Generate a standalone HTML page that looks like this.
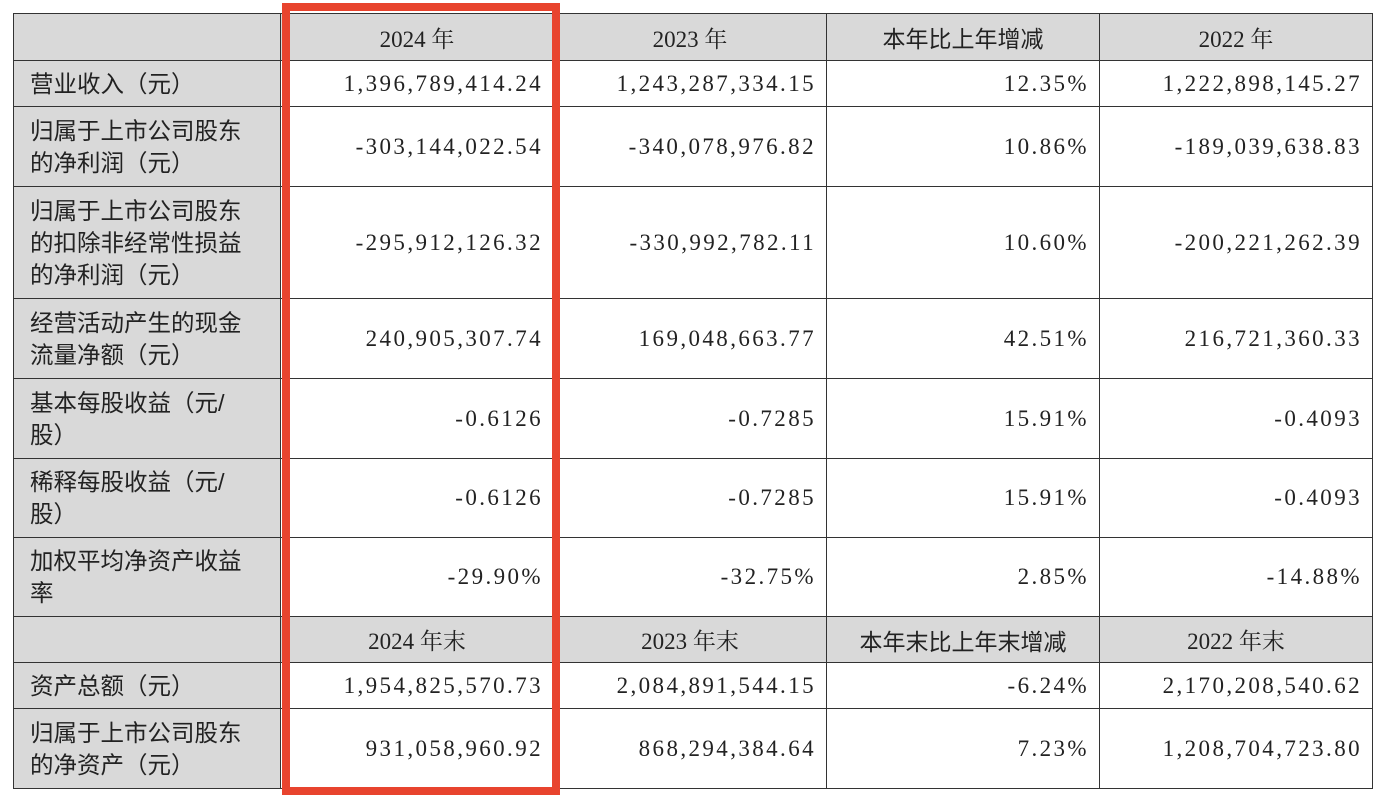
<!DOCTYPE html>
<html><head><meta charset="utf-8">
<style>
html,body{margin:0;padding:0;background:#fff;width:1399px;height:801px;overflow:hidden;}
#tbl{position:absolute;left:13px;top:13px;border-collapse:collapse;table-layout:fixed;}
#tbl td{border:1.5px solid #333;padding:0;color:#222;}
.lab{background:#d9d9d9;font-family:"Liberation Sans","Noto Sans CJK SC",sans-serif;font-size:23.5px;line-height:32px;padding-left:16px !important;text-align:left;}
.hd{background:#d9d9d9;text-align:center;font-family:"Liberation Serif","Noto Serif CJK SC",serif;font-size:23px;}
.hd.cjk{font-family:"Liberation Sans","Noto Sans CJK SC",sans-serif;}
.num{text-align:right;font-family:"Liberation Serif",serif;font-size:23px;letter-spacing:2.4px;padding-right:10px !important;background:#fff;}
#red{position:absolute;left:282px;top:3px;width:262px;height:776px;border:8px solid #e8442e;}
</style></head><body>
<table id="tbl">
<colgroup><col style="width:267px"><col style="width:273px"><col style="width:273px"><col style="width:273px"><col style="width:273px"></colgroup>
<tr style="height:47px"><td class="hd"></td><td class="hd">2024 年</td><td class="hd">2023 年</td><td class="hd cjk">本年比上年增减</td><td class="hd">2022 年</td></tr>
<tr style="height:46px"><td class="lab">营业收入（元）</td><td class="num">1,396,789,414.24</td><td class="num">1,243,287,334.15</td><td class="num">12.35%</td><td class="num">1,222,898,145.27</td></tr>
<tr style="height:80px"><td class="lab">归属于上市公司股东<br>的净利润（元）</td><td class="num">-303,144,022.54</td><td class="num">-340,078,976.82</td><td class="num">10.86%</td><td class="num">-189,039,638.83</td></tr>
<tr style="height:112px"><td class="lab">归属于上市公司股东<br>的扣除非经常性损益<br>的净利润（元）</td><td class="num">-295,912,126.32</td><td class="num">-330,992,782.11</td><td class="num">10.60%</td><td class="num">-200,221,262.39</td></tr>
<tr style="height:80px"><td class="lab">经营活动产生的现金<br>流量净额（元）</td><td class="num">240,905,307.74</td><td class="num">169,048,663.77</td><td class="num">42.51%</td><td class="num">216,721,360.33</td></tr>
<tr style="height:80px"><td class="lab">基本每股收益（元/<br>股）</td><td class="num">-0.6126</td><td class="num">-0.7285</td><td class="num">15.91%</td><td class="num">-0.4093</td></tr>
<tr style="height:79px"><td class="lab">稀释每股收益（元/<br>股）</td><td class="num">-0.6126</td><td class="num">-0.7285</td><td class="num">15.91%</td><td class="num">-0.4093</td></tr>
<tr style="height:79px"><td class="lab">加权平均净资产收益<br>率</td><td class="num">-29.90%</td><td class="num">-32.75%</td><td class="num">2.85%</td><td class="num">-14.88%</td></tr>
<tr style="height:46px"><td class="hd"></td><td class="hd">2024 年末</td><td class="hd">2023 年末</td><td class="hd cjk">本年末比上年末增减</td><td class="hd">2022 年末</td></tr>
<tr style="height:46px"><td class="lab">资产总额（元）</td><td class="num">1,954,825,570.73</td><td class="num">2,084,891,544.15</td><td class="num">-6.24%</td><td class="num">2,170,208,540.62</td></tr>
<tr style="height:80px"><td class="lab">归属于上市公司股东<br>的净资产（元）</td><td class="num">931,058,960.92</td><td class="num">868,294,384.64</td><td class="num">7.23%</td><td class="num">1,208,704,723.80</td></tr>
</table>
<div id="red"></div>
</body></html>
